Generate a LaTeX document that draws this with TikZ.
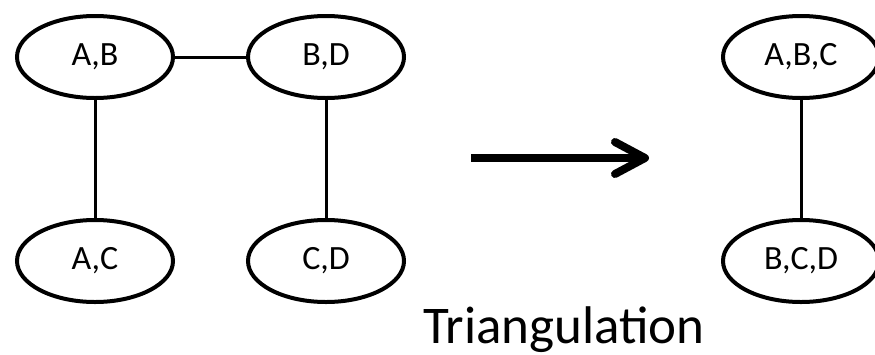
\documentclass[tikz,border=0pt]{standalone}
\usepackage{fontspec}
\setmainfont{Carlito}
\usetikzlibrary{shapes.geometric,arrows.meta}
\begin{document}
\begin{tikzpicture}[x=1pt,y=-1pt,
  clique/.style={ellipse,draw,line width=4pt,minimum width=156pt,minimum height=82pt,
    inner sep=0pt,font=\fontsize{34}{34}\selectfont},
  edge/.style={line width=3pt},
  bigarrow/.style={line width=8pt,-{Straight Barb[length=30pt,width=32pt,line cap=round,round]}}]
  \useasboundingbox (0,0) rectangle (875,354);
  % graph before triangulation
  \node[clique] (ab) at (95,57) {A,B};
  \node[clique] (bd) at (326,57) {B,D};
  \node[clique] (ac) at (95,261) {A,C};
  \node[clique] (cd) at (326,261) {C,D};
  \draw[edge] (ab) -- (bd);
  \draw[edge] (ab) -- (ac);
  \draw[edge] (bd) -- (cd);
  % transformation arrow
  \coordinate (from) at (471,158);
  \coordinate (to) at (649,158);
  \draw[bigarrow] (from) -- (to);
  % graph after triangulation
  \node[clique] (abc) at (801,57) {A,B,C};
  \node[clique] (bcd) at (801,261) {B,C,D};
  \draw[edge] (abc) -- (bcd);
  \node[anchor=base west,inner sep=0pt,font=\fontsize{53}{53}\selectfont] (title) at (423,343) {Triangulation};
\end{tikzpicture}
\end{document}
